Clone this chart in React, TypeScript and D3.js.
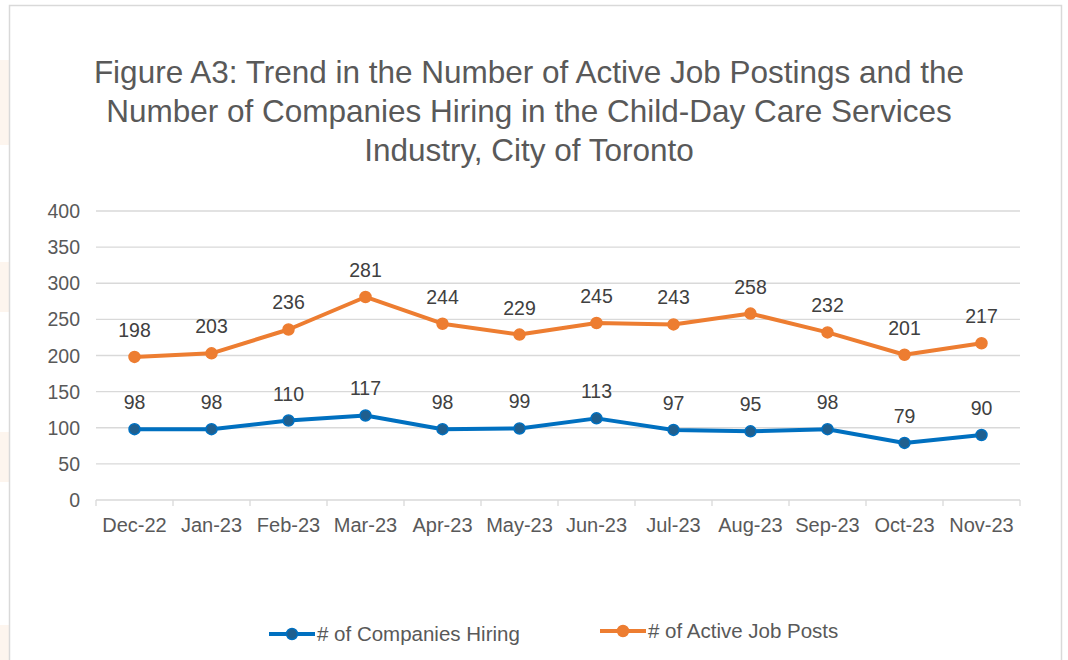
import React, { useEffect, useRef } from 'react';
import * as d3 from 'd3';

const months = ['Dec-22', 'Jan-23', 'Feb-23', 'Mar-23', 'Apr-23', 'May-23', 'Jun-23', 'Jul-23', 'Aug-23', 'Sep-23', 'Oct-23', 'Nov-23'];
const companiesHiring = [98, 98, 110, 117, 98, 99, 113, 97, 95, 98, 79, 90];
const activeJobPosts = [198, 203, 236, 281, 244, 229, 245, 243, 258, 232, 201, 217];
const yTicks = [0, 50, 100, 150, 200, 250, 300, 350, 400];
const titleLines = [
  'Figure A3: Trend in the Number of Active Job Postings and the',
  'Number of Companies Hiring in the Child-Day Care Services',
  'Industry, City of Toronto',
];

const FONT = '"Liberation Sans", Arial, sans-serif';

const App = () => {
  const svgRef = useRef<SVGSVGElement | null>(null);

  useEffect(() => {
    if (!svgRef.current) return;
    const svg = d3.select(svgRef.current);
    svg.selectAll('*').remove();

    // faint peach shapes on the left page edge
    [[60, 85], [262, 50], [432, 50], [625, 40]].forEach(([y, h]) => {
      svg.append('rect').attr('x', 0).attr('y', y).attr('width', 9).attr('height', h)
        .attr('fill', '#fdf5ee');
    });

    // chart frame
    svg.append('rect')
      .attr('x', 9.5).attr('y', 5.5)
      .attr('width', 1052).attr('height', 700)
      .attr('fill', '#fff')
      .attr('stroke', '#d9d9d9')
      .attr('stroke-width', 1.5);

    // title
    svg.append('text')
      .attr('text-anchor', 'middle')
      .attr('font-family', FONT)
      .attr('font-size', '31.5px')
      .attr('fill', '#595959')
      .selectAll('tspan')
      .data(titleLines)
      .enter()
      .append('tspan')
      .attr('x', 529)
      .attr('y', (d, i) => 83 + i * 39)
      .text(d => d);

    const x = d3.scaleBand<string>().domain(months).range([96, 1020]);
    const y = d3.scaleLinear().domain([0, 400]).range([500, 211]);

    const g = svg.append('g').attr('font-family', FONT);

    // gridlines
    g.selectAll('.grid')
      .data(yTicks.filter(t => t > 0))
      .enter()
      .append('line')
      .attr('x1', 96).attr('x2', 1020)
      .attr('y1', d => y(d)).attr('y2', d => y(d))
      .attr('stroke', '#d9d9d9')
      .attr('stroke-width', 1.3);

    // y labels
    g.selectAll('.ylab')
      .data(yTicks)
      .enter()
      .append('text')
      .attr('x', 80)
      .attr('y', d => y(d) + 7)
      .attr('text-anchor', 'end')
      .attr('font-size', '19.5px')
      .attr('fill', '#595959')
      .text(d => d);

    // x axis
    g.append('line')
      .attr('x1', 96).attr('x2', 1020)
      .attr('y1', y(0)).attr('y2', y(0))
      .attr('stroke', '#d9d9d9').attr('stroke-width', 1.3);
    const bounds = months.map(m => x(m) as number).concat([1020]);
    g.selectAll('.xtick')
      .data(bounds)
      .enter()
      .append('line')
      .attr('x1', d => d).attr('x2', d => d)
      .attr('y1', y(0)).attr('y2', y(0) + 6)
      .attr('stroke', '#d9d9d9').attr('stroke-width', 1.3);
    g.selectAll('.xlab')
      .data(months)
      .enter()
      .append('text')
      .attr('x', d => (x(d) as number) + x.bandwidth() / 2)
      .attr('y', 532)
      .attr('text-anchor', 'middle')
      .attr('font-size', '20px')
      .attr('fill', '#595959')
      .text(d => d);

    const cx = (i: number) => (x(months[i]) as number) + x.bandwidth() / 2;

    const series = [
      { values: activeJobPosts, stroke: '#ED7D31', marker: '#ED7D31' },
      { values: companiesHiring, stroke: '#0070C0', marker: '#1F5F8F' },
    ];

    series.forEach(s => {
      const line = d3.line<number>().x((d, i) => cx(i)).y(d => y(d));
      g.append('path')
        .datum(s.values)
        .attr('fill', 'none')
        .attr('stroke', s.stroke)
        .attr('stroke-width', 4)
        .attr('stroke-linejoin', 'round')
        .attr('d', line);
      g.selectAll(null)
        .data(s.values)
        .enter()
        .append('circle')
        .attr('cx', (d, i) => cx(i))
        .attr('cy', d => y(d))
        .attr('r', 5.5)
        .attr('fill', s.marker)
        .attr('stroke', s.stroke)
        .attr('stroke-width', 1.5);
      g.selectAll(null)
        .data(s.values)
        .enter()
        .append('text')
        .attr('x', (d, i) => cx(i))
        .attr('y', d => y(d) - 20)
        .attr('text-anchor', 'middle')
        .attr('font-size', '19.5px')
        .attr('fill', '#404040')
        .text(d => d);
    });

    // legend
    const legendItems = [
      { label: '# of Companies Hiring', stroke: '#0070C0', marker: '#1F5F8F', x: 269, y: 634 },
      { label: '# of Active Job Posts', stroke: '#ED7D31', marker: '#ED7D31', x: 600, y: 631 },
    ];
    legendItems.forEach(l => {
      const lg = g.append('g').attr('transform', `translate(${l.x}, ${l.y})`);
      lg.append('line')
        .attr('x1', 0).attr('x2', 46)
        .attr('y1', 0).attr('y2', 0)
        .attr('stroke', l.stroke).attr('stroke-width', 4);
      lg.append('circle')
        .attr('cx', 23).attr('cy', 0).attr('r', 5.5)
        .attr('fill', l.marker).attr('stroke', l.stroke).attr('stroke-width', 1.5);
      lg.append('text')
        .attr('x', 48).attr('y', 7)
        .attr('font-size', '20.5px')
        .attr('fill', '#595959')
        .text(l.label);
    });
  }, []);

  return (
    <div style={{ position: 'absolute', left: 0, top: 0, width: 1068, height: 660, overflow: 'hidden', background: '#fff' }}>
      <svg ref={svgRef} width={1068} height={660} style={{ display: 'block' }}></svg>
    </div>
  );
};

export default App;
